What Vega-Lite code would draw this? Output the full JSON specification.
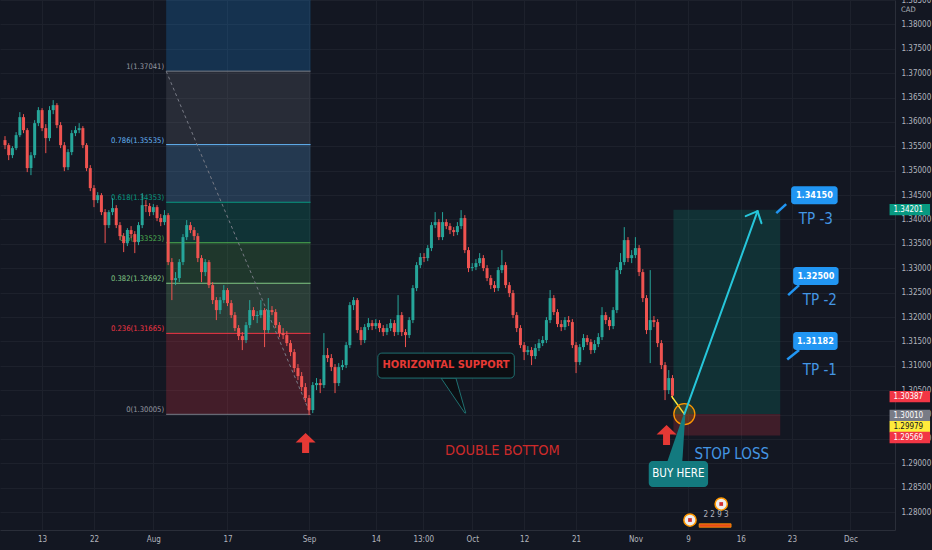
{
  "$schema": "https://vega.github.io/schema/vega-lite/v6.json",
  "width": 895,
  "height": 530,
  "autosize": {"type": "none"},
  "padding": {"left": 0, "top": 0, "right": 37, "bottom": 20},
  "background": "#131722",
  "config": {
    "view": {"stroke": null},
    "axis": {
      "labelFont": "DejaVu Sans Condensed, Liberation Sans, sans-serif",
      "labelFontSize": 8,
      "labelColor": "#b2b5be",
      "domainColor": "#2a2e39",
      "gridColor": "#1d212c",
      "ticks": false,
      "titleOpacity": 0,
      "titleFontSize": 1,
      "labelOverlap": false,
      "zindex": 0
    },
    "text": {"font": "DejaVu Sans Condensed, Liberation Sans, sans-serif"}
  },
  "resolve": {"scale": {"fill": "independent", "color": "independent", "stroke": "independent"}},
  "datasets": {
    "candles": [
      {"d":-5,"o":1.35627,"h":1.35709,"l":1.35442,"c":1.35524},
      {"d":-4.5,"o":1.35524,"h":1.35565,"l":1.35217,"c":1.35319},
      {"d":-4,"o":1.35319,"h":1.35504,"l":1.35258,"c":1.35463},
      {"d":-3.5,"o":1.35463,"h":1.35791,"l":1.35422,"c":1.35729},
      {"d":-3,"o":1.35729,"h":1.36201,"l":1.35688,"c":1.36098},
      {"d":-2.5,"o":1.36098,"h":1.36160,"l":1.35770,"c":1.35832},
      {"d":-2,"o":1.35832,"h":1.35873,"l":1.34971,"c":1.35053},
      {"d":-1.5,"o":1.35053,"h":1.35381,"l":1.34909,"c":1.35319},
      {"d":-1,"o":1.35319,"h":1.36037,"l":1.35258,"c":1.35975},
      {"d":-0.5,"o":1.35975,"h":1.36303,"l":1.35914,"c":1.36242},
      {"d":0,"o":1.36242,"h":1.36283,"l":1.35811,"c":1.35873},
      {"d":0.5,"o":1.35873,"h":1.35955,"l":1.35360,"c":1.35668},
      {"d":1,"o":1.35668,"h":1.36324,"l":1.35606,"c":1.36242},
      {"d":1.5,"o":1.36242,"h":1.36447,"l":1.36160,"c":1.36344},
      {"d":2,"o":1.36344,"h":1.36385,"l":1.35873,"c":1.35934},
      {"d":2.5,"o":1.35934,"h":1.35996,"l":1.35463,"c":1.35524},
      {"d":3,"o":1.35524,"h":1.35586,"l":1.34991,"c":1.35073},
      {"d":3.5,"o":1.35073,"h":1.35442,"l":1.35012,"c":1.35381},
      {"d":4,"o":1.35381,"h":1.35832,"l":1.35319,"c":1.35770},
      {"d":4.5,"o":1.35770,"h":1.35914,"l":1.35709,"c":1.35832},
      {"d":5,"o":1.35832,"h":1.35975,"l":1.35770,"c":1.35873},
      {"d":5.5,"o":1.35873,"h":1.35914,"l":1.35463,"c":1.35524},
      {"d":6,"o":1.35524,"h":1.35565,"l":1.34991,"c":1.35053},
      {"d":6.5,"o":1.35053,"h":1.35114,"l":1.34581,"c":1.34643},
      {"d":7,"o":1.34643,"h":1.34704,"l":1.34253,"c":1.34397},
      {"d":7.5,"o":1.34397,"h":1.34561,"l":1.34335,"c":1.34499},
      {"d":8,"o":1.34499,"h":1.34540,"l":1.34089,"c":1.34151},
      {"d":8.5,"o":1.34151,"h":1.34212,"l":1.33515,"c":1.33884},
      {"d":9,"o":1.33884,"h":1.34192,"l":1.33823,"c":1.34151},
      {"d":9.5,"o":1.34151,"h":1.34438,"l":1.34089,"c":1.34233},
      {"d":10,"o":1.34233,"h":1.34294,"l":1.33823,"c":1.33884},
      {"d":10.5,"o":1.33884,"h":1.33946,"l":1.33577,"c":1.33659},
      {"d":11,"o":1.33659,"h":1.33720,"l":1.33331,"c":1.33515},
      {"d":11.5,"o":1.33515,"h":1.33823,"l":1.33454,"c":1.33782},
      {"d":12,"o":1.33782,"h":1.33864,"l":1.33618,"c":1.33700},
      {"d":12.5,"o":1.33700,"h":1.33761,"l":1.33310,"c":1.33536},
      {"d":13,"o":1.33536,"h":1.33946,"l":1.33474,"c":1.33884},
      {"d":13.5,"o":1.33884,"h":1.34540,"l":1.33823,"c":1.34294},
      {"d":14,"o":1.34294,"h":1.34397,"l":1.34151,"c":1.34274},
      {"d":14.5,"o":1.34274,"h":1.34335,"l":1.34069,"c":1.34151},
      {"d":15,"o":1.34151,"h":1.34315,"l":1.34089,"c":1.34253},
      {"d":15.5,"o":1.34253,"h":1.34294,"l":1.33966,"c":1.34028},
      {"d":16,"o":1.34028,"h":1.34110,"l":1.33864,"c":1.33946},
      {"d":16.5,"o":1.33946,"h":1.34192,"l":1.33884,"c":1.34089},
      {"d":17,"o":1.34089,"h":1.34130,"l":1.33064,"c":1.33126},
      {"d":17.5,"o":1.33126,"h":1.33208,"l":1.32347,"c":1.32757},
      {"d":18,"o":1.32757,"h":1.32921,"l":1.32654,"c":1.32798},
      {"d":18.5,"o":1.32798,"h":1.33187,"l":1.32716,"c":1.33126},
      {"d":19,"o":1.33126,"h":1.33700,"l":1.33064,"c":1.33638},
      {"d":19.5,"o":1.33638,"h":1.33987,"l":1.33577,"c":1.33884},
      {"d":20,"o":1.33884,"h":1.33946,"l":1.33720,"c":1.33782},
      {"d":20.5,"o":1.33782,"h":1.33843,"l":1.33577,"c":1.33659},
      {"d":21,"o":1.33659,"h":1.33720,"l":1.33126,"c":1.33208},
      {"d":21.5,"o":1.33208,"h":1.33269,"l":1.32716,"c":1.32921},
      {"d":22,"o":1.32921,"h":1.33187,"l":1.32839,"c":1.33126},
      {"d":22.5,"o":1.33126,"h":1.33167,"l":1.32593,"c":1.32654},
      {"d":23,"o":1.32654,"h":1.32716,"l":1.32265,"c":1.32347},
      {"d":23.5,"o":1.32347,"h":1.32408,"l":1.31937,"c":1.32142},
      {"d":24,"o":1.32142,"h":1.32408,"l":1.32060,"c":1.32347},
      {"d":24.5,"o":1.32347,"h":1.32654,"l":1.32285,"c":1.32552},
      {"d":25,"o":1.32552,"h":1.32593,"l":1.32224,"c":1.32285},
      {"d":25.5,"o":1.32285,"h":1.32347,"l":1.31978,"c":1.32039},
      {"d":26,"o":1.32039,"h":1.32101,"l":1.31711,"c":1.31773},
      {"d":26.5,"o":1.31773,"h":1.31834,"l":1.31527,"c":1.31609},
      {"d":27,"o":1.31609,"h":1.31691,"l":1.31322,"c":1.31527},
      {"d":27.5,"o":1.31527,"h":1.31896,"l":1.31465,"c":1.31834},
      {"d":28,"o":1.31834,"h":1.32347,"l":1.31773,"c":1.32142},
      {"d":28.5,"o":1.32142,"h":1.32203,"l":1.31937,"c":1.32019},
      {"d":29,"o":1.32019,"h":1.32121,"l":1.31875,"c":1.32039},
      {"d":29.5,"o":1.32039,"h":1.32347,"l":1.31978,"c":1.32142},
      {"d":30,"o":1.32142,"h":1.32183,"l":1.31383,"c":1.31732},
      {"d":30.5,"o":1.31732,"h":1.32388,"l":1.31670,"c":1.32142},
      {"d":31,"o":1.32142,"h":1.32224,"l":1.32039,"c":1.32101},
      {"d":31.5,"o":1.32101,"h":1.32162,"l":1.31773,"c":1.31834},
      {"d":32,"o":1.31834,"h":1.31896,"l":1.31588,"c":1.31670},
      {"d":32.5,"o":1.31670,"h":1.31773,"l":1.31547,"c":1.31629},
      {"d":33,"o":1.31629,"h":1.31711,"l":1.31404,"c":1.31465},
      {"d":33.5,"o":1.31465,"h":1.31527,"l":1.31199,"c":1.31281},
      {"d":34,"o":1.31281,"h":1.31342,"l":1.30871,"c":1.30953},
      {"d":34.5,"o":1.30953,"h":1.31035,"l":1.30707,"c":1.30789},
      {"d":35,"o":1.30789,"h":1.30871,"l":1.30481,"c":1.30563},
      {"d":35.5,"o":1.30563,"h":1.30645,"l":1.30256,"c":1.30338},
      {"d":36,"o":1.30338,"h":1.30399,"l":1.29989,"c":1.30092},
      {"d":36.5,"o":1.30092,"h":1.30666,"l":1.30030,"c":1.30604},
      {"d":37,"o":1.30604,"h":1.30748,"l":1.30502,"c":1.30645},
      {"d":37.5,"o":1.30645,"h":1.30727,"l":1.30440,"c":1.30604},
      {"d":38,"o":1.30604,"h":1.31670,"l":1.30543,"c":1.31219},
      {"d":38.5,"o":1.31219,"h":1.31363,"l":1.31076,"c":1.31158},
      {"d":39,"o":1.31158,"h":1.31240,"l":1.30891,"c":1.30973},
      {"d":39.5,"o":1.30973,"h":1.31035,"l":1.30440,"c":1.30645},
      {"d":40,"o":1.30645,"h":1.31055,"l":1.30584,"c":1.30973},
      {"d":40.5,"o":1.30973,"h":1.31117,"l":1.30912,"c":1.31014},
      {"d":41,"o":1.31014,"h":1.31486,"l":1.30953,"c":1.31424},
      {"d":41.5,"o":1.31424,"h":1.32306,"l":1.31363,"c":1.32244},
      {"d":42,"o":1.32244,"h":1.32408,"l":1.32142,"c":1.32347},
      {"d":42.5,"o":1.32347,"h":1.32388,"l":1.31670,"c":1.31732},
      {"d":43,"o":1.31732,"h":1.31793,"l":1.31424,"c":1.31527},
      {"d":43.5,"o":1.31527,"h":1.31855,"l":1.31465,"c":1.31793},
      {"d":44,"o":1.31793,"h":1.31978,"l":1.31732,"c":1.31875},
      {"d":44.5,"o":1.31875,"h":1.31937,"l":1.31732,"c":1.31814},
      {"d":45,"o":1.31814,"h":1.31957,"l":1.31752,"c":1.31875},
      {"d":45.5,"o":1.31875,"h":1.31937,"l":1.31691,"c":1.31773},
      {"d":46,"o":1.31773,"h":1.31834,"l":1.31609,"c":1.31691},
      {"d":46.5,"o":1.31691,"h":1.31855,"l":1.31629,"c":1.31773},
      {"d":47,"o":1.31773,"h":1.31957,"l":1.31711,"c":1.31875},
      {"d":47.5,"o":1.31875,"h":1.31937,"l":1.31609,"c":1.31691},
      {"d":48,"o":1.31691,"h":1.32449,"l":1.31629,"c":1.32039},
      {"d":48.5,"o":1.32039,"h":1.32101,"l":1.31609,"c":1.31691},
      {"d":49,"o":1.31691,"h":1.31752,"l":1.31383,"c":1.31629},
      {"d":49.5,"o":1.31629,"h":1.31998,"l":1.31568,"c":1.31937},
      {"d":50,"o":1.31937,"h":1.32654,"l":1.31875,"c":1.32593},
      {"d":50.5,"o":1.32593,"h":1.33126,"l":1.32531,"c":1.33064},
      {"d":51,"o":1.33064,"h":1.33310,"l":1.33003,"c":1.33228},
      {"d":51.5,"o":1.33228,"h":1.33310,"l":1.33126,"c":1.33208},
      {"d":52,"o":1.33208,"h":1.33474,"l":1.33146,"c":1.33413},
      {"d":52.5,"o":1.33413,"h":1.33946,"l":1.33351,"c":1.33884},
      {"d":53,"o":1.33884,"h":1.34151,"l":1.33823,"c":1.33946},
      {"d":53.5,"o":1.33946,"h":1.34007,"l":1.33577,"c":1.33638},
      {"d":54,"o":1.33638,"h":1.34151,"l":1.33577,"c":1.33946},
      {"d":54.5,"o":1.33946,"h":1.34007,"l":1.33802,"c":1.33864},
      {"d":55,"o":1.33864,"h":1.33925,"l":1.33700,"c":1.33782},
      {"d":55.5,"o":1.33782,"h":1.33843,"l":1.33659,"c":1.33741},
      {"d":56,"o":1.33741,"h":1.33946,"l":1.33679,"c":1.33864},
      {"d":56.5,"o":1.33864,"h":1.34192,"l":1.33802,"c":1.34028},
      {"d":57,"o":1.34028,"h":1.34089,"l":1.33310,"c":1.33372},
      {"d":57.5,"o":1.33372,"h":1.33433,"l":1.32921,"c":1.33003},
      {"d":58,"o":1.33003,"h":1.33105,"l":1.32941,"c":1.33023},
      {"d":58.5,"o":1.33023,"h":1.33187,"l":1.32962,"c":1.33105},
      {"d":59,"o":1.33105,"h":1.33310,"l":1.33044,"c":1.33208},
      {"d":59.5,"o":1.33208,"h":1.33269,"l":1.32941,"c":1.33003},
      {"d":60,"o":1.33003,"h":1.33064,"l":1.32736,"c":1.32798},
      {"d":60.5,"o":1.32798,"h":1.32859,"l":1.32572,"c":1.32654},
      {"d":61,"o":1.32654,"h":1.32736,"l":1.32511,"c":1.32593},
      {"d":61.5,"o":1.32593,"h":1.33023,"l":1.32531,"c":1.32962},
      {"d":62,"o":1.32962,"h":1.33372,"l":1.32900,"c":1.33064},
      {"d":62.5,"o":1.33064,"h":1.33126,"l":1.32593,"c":1.32654},
      {"d":63,"o":1.32654,"h":1.32716,"l":1.32408,"c":1.32490},
      {"d":63.5,"o":1.32490,"h":1.32552,"l":1.31978,"c":1.32039},
      {"d":64,"o":1.32039,"h":1.32101,"l":1.31691,"c":1.31773},
      {"d":64.5,"o":1.31773,"h":1.31834,"l":1.31363,"c":1.31424},
      {"d":65,"o":1.31424,"h":1.31486,"l":1.31117,"c":1.31281},
      {"d":65.5,"o":1.31281,"h":1.31404,"l":1.31219,"c":1.31322},
      {"d":66,"o":1.31322,"h":1.31383,"l":1.31014,"c":1.31199},
      {"d":66.5,"o":1.31199,"h":1.31445,"l":1.31137,"c":1.31363},
      {"d":67,"o":1.31363,"h":1.31547,"l":1.31301,"c":1.31465},
      {"d":67.5,"o":1.31465,"h":1.31609,"l":1.31404,"c":1.31527},
      {"d":68,"o":1.31527,"h":1.31998,"l":1.31465,"c":1.31937},
      {"d":68.5,"o":1.31937,"h":1.32552,"l":1.31875,"c":1.32388},
      {"d":69,"o":1.32388,"h":1.32449,"l":1.32039,"c":1.32101},
      {"d":69.5,"o":1.32101,"h":1.32162,"l":1.31793,"c":1.31855},
      {"d":70,"o":1.31855,"h":1.31937,"l":1.31711,"c":1.31793},
      {"d":70.5,"o":1.31793,"h":1.31998,"l":1.31732,"c":1.31937},
      {"d":71,"o":1.31937,"h":1.32019,"l":1.31814,"c":1.31896},
      {"d":71.5,"o":1.31896,"h":1.31957,"l":1.31363,"c":1.31424},
      {"d":72,"o":1.31424,"h":1.31486,"l":1.30850,"c":1.31076},
      {"d":72.5,"o":1.31076,"h":1.31445,"l":1.31014,"c":1.31383},
      {"d":73,"o":1.31383,"h":1.31650,"l":1.31322,"c":1.31568},
      {"d":73.5,"o":1.31568,"h":1.31629,"l":1.31424,"c":1.31486},
      {"d":74,"o":1.31486,"h":1.31547,"l":1.31240,"c":1.31322},
      {"d":74.5,"o":1.31322,"h":1.31527,"l":1.31260,"c":1.31445},
      {"d":75,"o":1.31445,"h":1.31670,"l":1.31383,"c":1.31588},
      {"d":75.5,"o":1.31588,"h":1.32203,"l":1.31527,"c":1.32039},
      {"d":76,"o":1.32039,"h":1.32101,"l":1.31855,"c":1.31937},
      {"d":76.5,"o":1.31937,"h":1.31998,"l":1.31732,"c":1.31814},
      {"d":77,"o":1.31814,"h":1.32203,"l":1.31752,"c":1.32142},
      {"d":77.5,"o":1.32142,"h":1.33023,"l":1.32080,"c":1.32962},
      {"d":78,"o":1.32962,"h":1.33310,"l":1.32880,"c":1.33126},
      {"d":78.5,"o":1.33126,"h":1.33843,"l":1.33064,"c":1.33577},
      {"d":79,"o":1.33577,"h":1.33638,"l":1.33126,"c":1.33208},
      {"d":79.5,"o":1.33208,"h":1.33372,"l":1.33105,"c":1.33269},
      {"d":80,"o":1.33269,"h":1.33638,"l":1.33208,"c":1.33413},
      {"d":80.5,"o":1.33413,"h":1.33474,"l":1.32839,"c":1.32921},
      {"d":81,"o":1.32921,"h":1.32982,"l":1.32306,"c":1.32388},
      {"d":81.5,"o":1.32388,"h":1.32449,"l":1.31650,"c":1.31732},
      {"d":82,"o":1.31732,"h":1.32962,"l":1.31055,"c":1.31937},
      {"d":82.5,"o":1.31937,"h":1.32019,"l":1.31793,"c":1.31896},
      {"d":83,"o":1.31896,"h":1.31957,"l":1.31383,"c":1.31465},
      {"d":83.5,"o":1.31465,"h":1.31527,"l":1.30932,"c":1.31014},
      {"d":84,"o":1.31014,"h":1.31076,"l":1.30297,"c":1.30502},
      {"d":84.5,"o":1.30502,"h":1.30912,"l":1.30420,"c":1.30748},
      {"d":85,"o":1.30748,"h":1.30809,"l":1.30317,"c":1.30387}
    ],
    "fibLevels": [
      {"lvl":"1","p":1.37041,"t":"1(1.37041)"},
      {"lvl":"0.786","p":1.35535,"t":"0.786(1.35535)"},
      {"lvl":"0.618","p":1.34353,"t":"0.618(1.34353)"},
      {"lvl":"0.5","p":1.33523,"t":"0.5(1.33523)"},
      {"lvl":"0.382","p":1.32692,"t":"0.382(1.32692)"},
      {"lvl":"0.236","p":1.31665,"t":"0.236(1.31665)"},
      {"lvl":"0","p":1.30005,"t":"0(1.30005)"}
    ]
  },
  "layer": [
    {
      "data": {"values": [
        {"band":"1-1.618","a":1.37041,"b":1.385},
        {"band":"0.786-1","a":1.35535,"b":1.37041},
        {"band":"0.618-0.786","a":1.34353,"b":1.35535},
        {"band":"0.5-0.618","a":1.33523,"b":1.34353},
        {"band":"0.382-0.5","a":1.32692,"b":1.33523},
        {"band":"0.236-0.382","a":1.31665,"b":1.32692},
        {"band":"0-0.236","a":1.30005,"b":1.31665}
      ]},
      "mark": {"type": "rect", "fillOpacity": 0.22},
      "encoding": {
        "x": {
          "datum": 16.73, "type": "quantitative",
          "scale": {"domain": [-5, 114.33], "nice": false, "zero": false},
          "axis": {
            "title": null, "orient": "bottom", "grid": true, "domain": true, "labelPadding": 5,
            "labelFlush": false, "labelOverlap": false, "zindex": 0,
            "values": [0, 7, 15, 25, 36, 45, 51.4, 58, 65, 72, 80, 87.1, 94.2, 101.1, 109],
            "labelExpr": "['13','22','Aug','17','Sep','14','13:00','Oct','12','21','Nov','9','16','23','Dec'][indexof([0,7,15,25,36,45,51.4,58,65,72,80,87.1,94.2,101.1,109], datum.value)]"
          }
        },
        "x2": {"datum": 36.2},
        "y": {
          "field": "a", "type": "quantitative",
          "scale": {"domain": [1.27633, 1.385], "nice": false, "zero": false},
          "axis": {
            "orient": "right", "title": null, "grid": true, "domain": true, "labelPadding": 6,
            "format": ".5f", "labelBaseline": "middle", "labelFlush": false, "labelOverlap": false,
            "labelBound": false, "zindex": 0, "tickCount": 22,
            "values": [1.28, 1.285, 1.29, 1.295, 1.3, 1.305, 1.31, 1.315, 1.32, 1.325, 1.33, 1.335, 1.34, 1.345, 1.35, 1.355, 1.36, 1.365, 1.37, 1.375, 1.38, 1.385]
          }
        },
        "y2": {"field": "b"},
        "fill": {
          "field": "band", "type": "nominal", "legend": null,
          "scale": {
            "domain": ["1-1.618","0.786-1","0.618-0.786","0.5-0.618","0.382-0.5","0.236-0.382","0-0.236"],
            "range": ["#2196f3","#787b86","#64b5f6","#089981","#4caf50","#81c784","#f23645"]
          }
        }
      }
    },
    {
      "data": {"values": [{"a":1.30010,"b":1.34201}]},
      "mark": {"type": "rect", "fill": "#089981", "fillOpacity": 0.2},
      "encoding": {
        "x": {"datum": 85.13, "type": "quantitative"},
        "x2": {"datum": 99.53},
        "y": {"field": "a", "type": "quantitative"},
        "y2": {"field": "b"}
      }
    },
    {
      "data": {"values": [{"a":1.29569,"b":1.30010}]},
      "mark": {"type": "rect", "fill": "#f23645", "fillOpacity": 0.2},
      "encoding": {
        "x": {"datum": 85.13, "type": "quantitative"},
        "x2": {"datum": 99.53},
        "y": {"field": "a", "type": "quantitative"},
        "y2": {"field": "b"}
      }
    },
    {
      "data": {"name": "fibLevels"},
      "mark": {"type": "rule", "strokeWidth": 1},
      "encoding": {
        "x": {"datum": 16.73, "type": "quantitative"},
        "x2": {"datum": 36.2},
        "y": {"field": "p", "type": "quantitative"},
        "stroke": {
          "field": "lvl", "type": "nominal", "legend": null,
          "scale": {
            "domain": ["1","0.786","0.618","0.5","0.382","0.236","0"],
            "range": ["#787b86","#64b5f6","#089981","#4caf50","#81c784","#f23645","#787b86"]
          }
        }
      }
    },
    {
      "data": {"name": "fibLevels"},
      "mark": {"type": "text", "align": "right", "baseline": "alphabetic", "dy": -2, "fontSize": 7.6},
      "encoding": {
        "x": {"datum": 16.45, "type": "quantitative"},
        "y": {"field": "p", "type": "quantitative"},
        "text": {"field": "t"},
        "color": {
          "field": "lvl", "type": "nominal", "legend": null,
          "scale": {
            "domain": ["1","0.786","0.618","0.5","0.382","0.236","0"],
            "range": ["#9598a1","#64b5f6","#089981","#4caf50","#81c784","#f23645","#9598a1"]
          }
        }
      }
    },
    {
      "data": {"values": [{"x":16.73,"y":1.37041,"x2":36.2,"y2":1.30005}]},
      "mark": {"type": "rule", "stroke": "#787b86", "strokeWidth": 1, "strokeDash": [3, 3]},
      "encoding": {
        "x": {"field": "x", "type": "quantitative"},
        "y": {"field": "y", "type": "quantitative"},
        "x2": {"field": "x2"},
        "y2": {"field": "y2"}
      }
    },
    {
      "mark": {"type": "rule", "stroke": "#ef5350", "strokeOpacity": 0.7, "strokeWidth": 1, "strokeDash": [1, 2]},
      "encoding": {"y": {"datum": 1.30387, "type": "quantitative"}}
    },
    {
      "data": {"name": "candles"},
      "mark": {"type": "rule", "strokeWidth": 1},
      "encoding": {
        "x": {"field": "d", "type": "quantitative"},
        "y": {"field": "l", "type": "quantitative"},
        "y2": {"field": "h"},
        "color": {"condition": {"test": "datum.c >= datum.o", "value": "#26a69a"}, "value": "#ef5350"}
      }
    },
    {
      "data": {"name": "candles"},
      "mark": {"type": "bar", "width": 3},
      "encoding": {
        "x": {"field": "d", "type": "quantitative"},
        "y": {"field": "o", "type": "quantitative"},
        "y2": {"field": "c"},
        "color": {"condition": {"test": "datum.c >= datum.o", "value": "#26a69a"}, "value": "#ef5350"}
      }
    },
    {
      "mark": {"type": "rule", "stroke": "#ffeb3b", "strokeWidth": 2},
      "encoding": {"y": {"datum": 1.30010, "type": "quantitative"}}
    },
    {
      "data": {"values": [{"x":84.87,"y":1.30379,"x2":86.6,"y2":1.30010}]},
      "mark": {"type": "rule", "stroke": "#ffeb3b", "strokeWidth": 1.5},
      "encoding": {
        "x": {"field": "x", "type": "quantitative"},
        "y": {"field": "y", "type": "quantitative"},
        "x2": {"field": "x2"},
        "y2": {"field": "y2"}
      }
    },
    {
      "data": {"values": [{"d":86.6,"p":1.30010}]},
      "mark": {"type": "point", "shape": "circle", "size": 441, "filled": true, "fill": "#ff9800", "fillOpacity": 0.18, "stroke": "#ff9800", "strokeWidth": 1.3},
      "encoding": {
        "x": {"field": "d", "type": "quantitative"},
        "y": {"field": "p", "type": "quantitative"}
      }
    },
    {
      "data": {"values": [
        {"x":86.6,"y":1.30010,"x2":96.47,"y2":1.34170},
        {"x":94.87,"y":1.34068,"x2":96.47,"y2":1.34170},
        {"x":97.0,"y":1.33924,"x2":96.47,"y2":1.34170}
      ]},
      "mark": {"type": "rule", "stroke": "#26c6da", "strokeWidth": 2, "strokeCap": "round"},
      "encoding": {
        "x": {"field": "x", "type": "quantitative"},
        "y": {"field": "y", "type": "quantitative"},
        "x2": {"field": "x2"},
        "y2": {"field": "y2"}
      }
    },
    {
      "data": {"values": [{"p":1.30748,"a":53.8,"b":55.8},{"p":1.30031,"a":57.0,"b":57.13}]},
      "mark": {"type": "area", "orient": "horizontal", "fill": "#0c0e13", "stroke": "#1f7070", "strokeWidth": 1},
      "encoding": {
        "y": {"field": "p", "type": "quantitative"},
        "x": {"field": "a", "type": "quantitative"},
        "x2": {"field": "b"}
      }
    },
    {
      "data": {"values": [{"x":45.27,"x2":63.67,"y":1.30748,"y2":1.31260}]},
      "mark": {"type": "rect", "fill": "#0c0e13", "stroke": "#1f7070", "strokeWidth": 1, "cornerRadius": 4},
      "encoding": {
        "x": {"field": "x", "type": "quantitative"},
        "x2": {"field": "x2"},
        "y": {"field": "y", "type": "quantitative"},
        "y2": {"field": "y2"}
      }
    },
    {
      "data": {"values": [{"d":54.47,"p":1.31014,"t":"HORIZONTAL SUPPORT"}]},
      "mark": {"type": "text", "fontSize": 11, "fontWeight": "bold", "color": "#e53935", "baseline": "middle"},
      "encoding": {
        "x": {"field": "d", "type": "quantitative"},
        "y": {"field": "p", "type": "quantitative"},
        "text": {"field": "t"}
      }
    },
    {
      "data": {"values": [{"p":1.29047,"a":84.33,"b":86.33},{"p":1.29990,"a":86.47,"b":86.73}]},
      "mark": {"type": "area", "orient": "horizontal", "fill": "#137a7f"},
      "encoding": {
        "y": {"field": "p", "type": "quantitative"},
        "x": {"field": "a", "type": "quantitative"},
        "x2": {"field": "b"}
      }
    },
    {
      "data": {"values": [{"x":81.8,"x2":89.8,"y":1.28514,"y2":1.29047}]},
      "mark": {"type": "rect", "fill": "#137a7f", "cornerRadius": 4},
      "encoding": {
        "x": {"field": "x", "type": "quantitative"},
        "x2": {"field": "x2"},
        "y": {"field": "y", "type": "quantitative"},
        "y2": {"field": "y2"}
      }
    },
    {
      "data": {"values": [{"d":85.8,"p":1.28781,"t":"BUY HERE"}]},
      "mark": {"type": "text", "fontSize": 11.5, "color": "#ffffff", "baseline": "middle"},
      "encoding": {
        "x": {"field": "d", "type": "quantitative"},
        "y": {"field": "p", "type": "quantitative"},
        "text": {"field": "t"}
      }
    },
    {
      "data": {"values": [
        {"x":100.33,"y":1.34314,"x2":99.0,"y2":1.34129},
        {"x":102.07,"y":1.32654,"x2":100.6,"y2":1.32449},
        {"x":102.07,"y":1.31322,"x2":100.47,"y2":1.31127}
      ]},
      "mark": {"type": "rule", "stroke": "#2196f3", "strokeWidth": 2.5},
      "encoding": {
        "x": {"field": "x", "type": "quantitative"},
        "y": {"field": "y", "type": "quantitative"},
        "x2": {"field": "x2"},
        "y2": {"field": "y2"}
      }
    },
    {
      "data": {"values": [
        {"x":101.0,"x2":107.27,"y":1.34314,"y2":1.34682},
        {"x":101.27,"x2":107.4,"y":1.32654,"y2":1.33023},
        {"x":101.27,"x2":107.27,"y":1.31322,"y2":1.31691}
      ]},
      "mark": {"type": "rect", "fill": "#2196f3", "cornerRadius": 3},
      "encoding": {
        "x": {"field": "x", "type": "quantitative"},
        "x2": {"field": "x2"},
        "y": {"field": "y", "type": "quantitative"},
        "y2": {"field": "y2"}
      }
    },
    {
      "data": {"values": [
        {"d":104.13,"p":1.34498,"t":"1.34150"},
        {"d":104.33,"p":1.32838,"t":"1.32500"},
        {"d":104.27,"p":1.31506,"t":"1.31182"}
      ]},
      "mark": {"type": "text", "fontSize": 9, "fontWeight": "bold", "color": "#ffffff", "baseline": "middle"},
      "encoding": {
        "x": {"field": "d", "type": "quantitative"},
        "y": {"field": "p", "type": "quantitative"},
        "text": {"field": "t"}
      }
    },
    {
      "data": {"values": [
        {"d":104.33,"p":1.34006,"t":"TP -3"},
        {"d":104.87,"p":1.32346,"t":"TP -2"},
        {"d":104.87,"p":1.30912,"t":"TP -1"},
        {"d":93.0,"p":1.29191,"t":"STOP LOSS"}
      ]},
      "mark": {"type": "text", "fontSize": 15, "color": "#4496e4", "baseline": "middle"},
      "encoding": {
        "x": {"field": "d", "type": "quantitative"},
        "y": {"field": "p", "type": "quantitative"},
        "text": {"field": "t"}
      }
    },
    {
      "data": {"values": [{"d":62.07,"p":1.29252,"t":"DOUBLE BOTTOM"}]},
      "mark": {"type": "text", "fontSize": 14.5, "color": "#cc2a2a", "baseline": "middle"},
      "encoding": {
        "x": {"field": "d", "type": "quantitative"},
        "y": {"field": "p", "type": "quantitative"},
        "text": {"field": "t"}
      }
    },
    {
      "data": {"values": [{"d":35.53,"p":1.29416},{"d":84.2,"p":1.29580}]},
      "mark": {"type": "point", "filled": true, "fill": "#e53935", "opacity": 1, "size": 400, "shape": "M0,-1L1,-0.05L0.35,-0.05L0.35,1L-0.35,1L-0.35,-0.05L-1,-0.05Z"},
      "encoding": {
        "x": {"field": "d", "type": "quantitative"},
        "y": {"field": "p", "type": "quantitative"}
      }
    },
    {
      "data": {"values": [{"x":88.6,"x2":92.9,"y":1.27690,"y2":1.27760}]},
      "mark": {"type": "rect", "fill": "#e64a19", "stroke": "#ff9800", "strokeWidth": 0.8},
      "encoding": {
        "x": {"field": "x", "type": "quantitative"},
        "x2": {"field": "x2"},
        "y": {"field": "y", "type": "quantitative"},
        "y2": {"field": "y2"}
      }
    },
    {
      "data": {"values": [{"d":87.36,"p":1.27838},{"d":91.57,"p":1.28166}]},
      "mark": {"type": "point", "shape": "circle", "size": 150, "filled": true, "fill": "#eeeeee", "stroke": "#ff9800", "strokeWidth": 1.5, "opacity": 1},
      "encoding": {
        "x": {"field": "d", "type": "quantitative"},
        "y": {"field": "p", "type": "quantitative"}
      }
    },
    {
      "data": {"values": [{"d":87.36,"p":1.27838},{"d":91.57,"p":1.28166}]},
      "mark": {"type": "point", "shape": "square", "size": 14, "filled": true, "fill": "#d32f2f", "opacity": 1},
      "encoding": {
        "x": {"field": "d", "type": "quantitative"},
        "y": {"field": "p", "type": "quantitative"}
      }
    },
    {
      "data": {"values": [{"d":90.87,"p":1.27941,"t":"2 2 9 3"}]},
      "mark": {"type": "text", "fontSize": 8, "color": "#b2b5be", "baseline": "middle"},
      "encoding": {
        "x": {"field": "d", "type": "quantitative"},
        "y": {"field": "p", "type": "quantitative"},
        "text": {"field": "t"}
      }
    },
    {
      "data": {"values": [
        {"k":"tp","p":1.34201,"t":"1.34201"},
        {"k":"last","p":1.30369,"t":"1.30387"},
        {"k":"line","p":1.29980,"t":"1.30010"},
        {"k":"entry","p":1.29754,"t":"1.29979"},
        {"k":"sl","p":1.29529,"t":"1.29569"}
      ]},
      "layer": [
        {
          "mark": {"type": "point", "filled": true, "opacity": 1, "size": 1640, "shape": "M-1,-0.28L1,-0.28L1,0.28L-1,0.28Z"},
          "encoding": {
            "x": {"datum": 117.0, "type": "quantitative"},
            "y": {"field": "p", "type": "quantitative"},
            "fill": {
              "field": "k", "type": "nominal", "legend": null,
              "scale": {"domain": ["tp","last","line","entry","sl"], "range": ["#089981","#f23645","#787b86","#ffeb3b","#f23645"]}
            }
          }
        },
        {
          "mark": {"type": "text", "fontSize": 8, "baseline": "middle", "align": "center"},
          "encoding": {
            "x": {"datum": 116.8, "type": "quantitative"},
            "y": {"field": "p", "type": "quantitative"},
            "text": {"field": "t"},
            "color": {
              "field": "k", "type": "nominal", "legend": null,
              "scale": {"domain": ["tp","last","line","entry","sl"], "range": ["#ffffff","#ffffff","#ffffff","#131722","#ffffff"]}
            }
          }
        }
      ]
    },
    {
      "data": {"values": [{"d":116.8,"p":1.38303,"t":"CAD"}]},
      "mark": {"type": "text", "fontSize": 7.5, "color": "#b2b5be", "baseline": "middle"},
      "encoding": {
        "x": {"field": "d", "type": "quantitative"},
        "y": {"field": "p", "type": "quantitative"},
        "text": {"field": "t"}
      }
    }
  ]
}
